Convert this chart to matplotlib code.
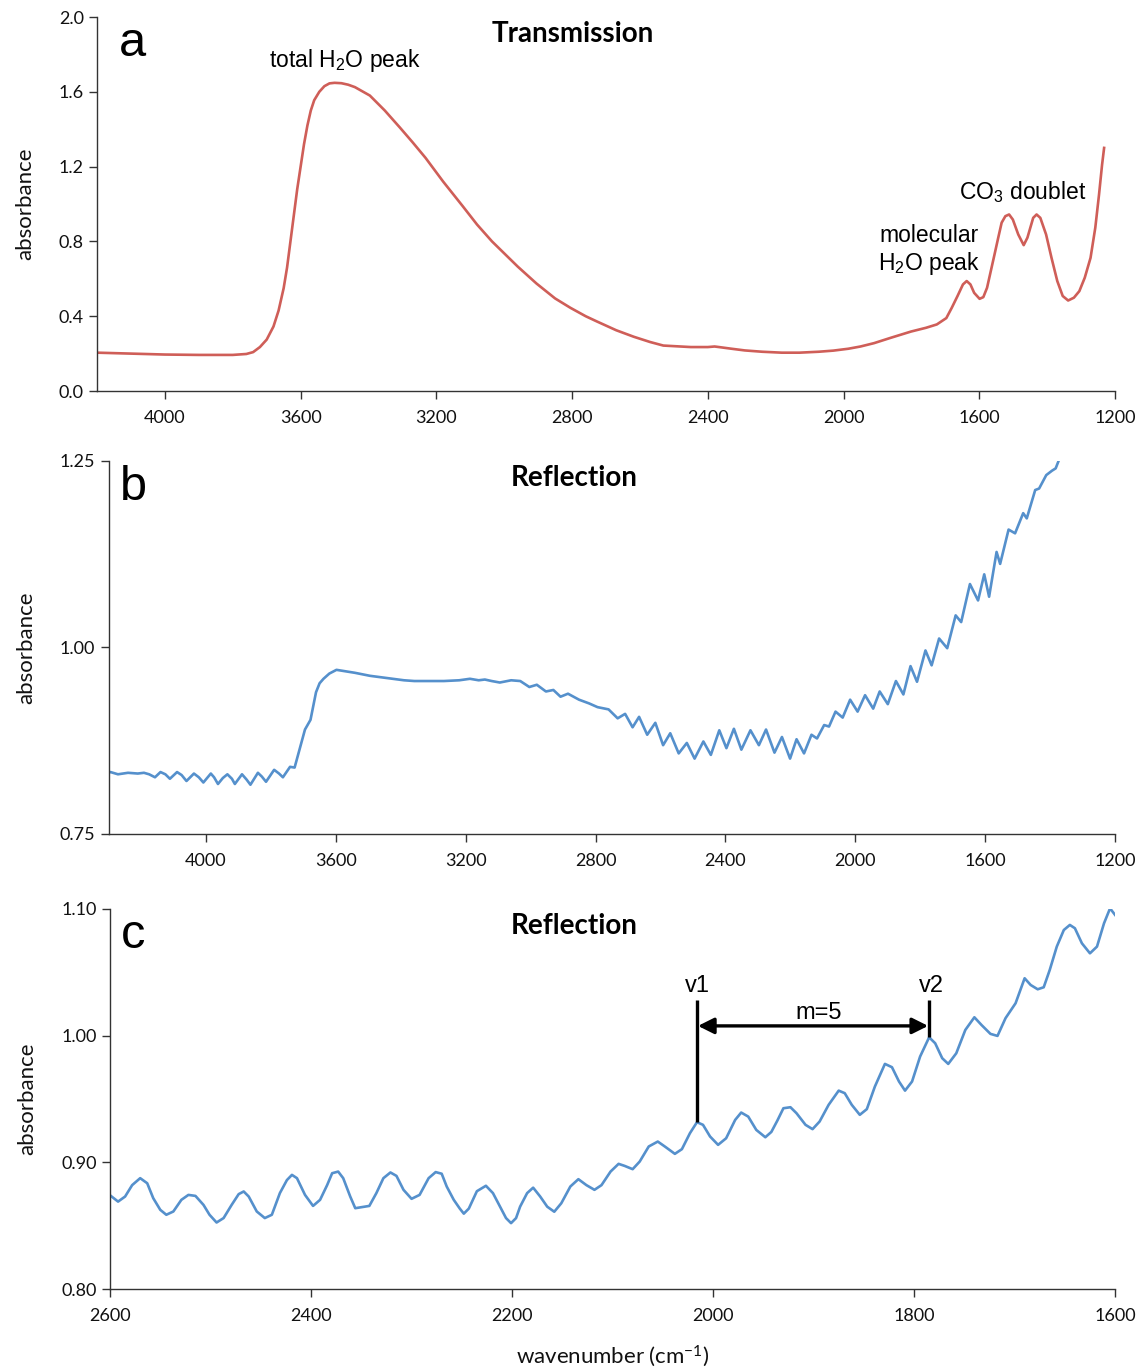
import matplotlib
matplotlib.use('Agg')
import matplotlib.pyplot as plt

plt.rcParams['font.family'] = ['Lato', 'DejaVu Sans']
plt.rcParams['mathtext.default'] = 'regular'

RED = '#CF5E58'
BLUE = '#5590CC'
INK = '#111111'
ANN = ['Liberation Sans', 'DejaVu Sans']

# panel a: transmission spectrum
wn_a = [4200, 4100, 4000, 3900, 3800, 3760, 3740, 3720, 3700, 3680, 3665, 3650,
        3640, 3630, 3620, 3610, 3600, 3590, 3580, 3570, 3560, 3545, 3530, 3515,
        3500, 3480, 3460, 3440, 3396, 3352, 3308, 3270, 3232, 3180, 3123, 3080,
        3036, 2960, 2905, 2850, 2805, 2760, 2727, 2670, 2618, 2570, 2531, 2450,
        2400, 2380, 2367, 2330, 2291, 2240, 2182, 2130, 2073, 2030, 1986, 1950,
        1910, 1860, 1801, 1757, 1725, 1697, 1681, 1664, 1648, 1637, 1626, 1615,
        1599, 1588, 1577, 1566, 1555, 1544, 1534, 1523, 1512, 1501, 1485, 1469,
        1458, 1441, 1431, 1420, 1403, 1387, 1370, 1354, 1338, 1321, 1305, 1289,
        1272, 1258, 1247, 1238, 1232]
ab_a = [0.205, 0.200, 0.195, 0.193, 0.193, 0.198, 0.208, 0.235, 0.275, 0.345, 0.43, 0.55,
        0.66, 0.80, 0.94, 1.08, 1.20, 1.32, 1.42, 1.50, 1.555, 1.60, 1.63, 1.645,
        1.648, 1.646, 1.638, 1.625, 1.580, 1.500, 1.410, 1.330, 1.247, 1.120, 0.990, 0.890,
        0.800, 0.665, 0.575, 0.495, 0.445, 0.400, 0.372, 0.325, 0.290, 0.262, 0.243, 0.235,
        0.235, 0.238, 0.235, 0.226, 0.217, 0.210, 0.205, 0.205, 0.210, 0.216, 0.226, 0.238,
        0.256, 0.285, 0.318, 0.338, 0.356, 0.390, 0.445, 0.508, 0.570, 0.588, 0.570, 0.525,
        0.493, 0.502, 0.552, 0.641, 0.730, 0.820, 0.900, 0.935, 0.944, 0.917, 0.837, 0.780,
        0.820, 0.926, 0.944, 0.926, 0.837, 0.712, 0.588, 0.508, 0.484, 0.499, 0.534, 0.606,
        0.712, 0.873, 1.050, 1.210, 1.300]

# panel b: reflection spectrum, full range
wn_b = [4300, 4294, 4271, 4240, 4210, 4191, 4175, 4157, 4140, 4125, 4111, 4089,
        4075, 4060, 4037, 4022, 4008, 3985, 3975, 3963, 3948, 3934, 3920, 3911,
        3889, 3875, 3863, 3840, 3828, 3815, 3790, 3775, 3763, 3741, 3727, 3712,
        3695, 3678, 3661, 3650, 3638, 3620, 3598, 3570, 3541, 3495, 3460, 3427,
        3390, 3358, 3300, 3267, 3220, 3187, 3160, 3141, 3120, 3095, 3060, 3032,
        3004, 2981, 2953, 2930, 2908, 2885, 2851, 2820, 2794, 2760, 2732, 2709,
        2686, 2666, 2641, 2616, 2592, 2570, 2544, 2519, 2495, 2468, 2445, 2419,
        2397, 2374, 2351, 2323, 2297, 2275, 2249, 2226, 2201, 2181, 2158, 2135,
        2118, 2096, 2081, 2061, 2039, 2016, 1993, 1970, 1945, 1925, 1900, 1875,
        1852, 1830, 1810, 1784, 1765, 1742, 1717, 1691, 1674, 1647, 1622, 1603,
        1588, 1565, 1554, 1528, 1508, 1483, 1472, 1446, 1434, 1412, 1394, 1383,
        1374]
ab_b = [0.832, 0.833, 0.830, 0.832, 0.831, 0.832, 0.830, 0.826, 0.833, 0.830, 0.824, 0.833,
        0.829, 0.821, 0.831, 0.826, 0.819, 0.831, 0.826, 0.817, 0.825, 0.830, 0.824, 0.817,
        0.830, 0.823, 0.816, 0.832, 0.827, 0.820, 0.836, 0.831, 0.826, 0.840, 0.839, 0.863,
        0.890, 0.903, 0.940, 0.952, 0.958, 0.965, 0.970, 0.968, 0.966, 0.962, 0.960, 0.958,
        0.956, 0.955, 0.955, 0.955, 0.956, 0.958, 0.956, 0.957, 0.955, 0.953, 0.956, 0.955,
        0.947, 0.950, 0.941, 0.943, 0.934, 0.938, 0.930, 0.925, 0.920, 0.917, 0.905, 0.911,
        0.893, 0.907, 0.883, 0.899, 0.869, 0.885, 0.858, 0.872, 0.851, 0.874, 0.856, 0.889,
        0.865, 0.891, 0.863, 0.889, 0.869, 0.890, 0.859, 0.880, 0.851, 0.877, 0.858, 0.883,
        0.878, 0.896, 0.894, 0.914, 0.906, 0.930, 0.914, 0.936, 0.918, 0.941, 0.924, 0.955,
        0.937, 0.975, 0.954, 0.996, 0.976, 1.012, 0.999, 1.043, 1.034, 1.085, 1.063, 1.098,
        1.068, 1.128, 1.112, 1.158, 1.153, 1.180, 1.173, 1.211, 1.213, 1.231, 1.237, 1.240,
        1.250]

# panel c: reflection, 2600-1600 zoom
wn_c = [2600, 2592, 2585, 2578, 2570, 2563, 2557, 2550, 2544, 2537, 2529, 2522,
        2515, 2507, 2501, 2494, 2487, 2479, 2472, 2467, 2462, 2454, 2446, 2439,
        2431, 2424, 2419, 2414, 2406, 2398, 2391, 2384, 2379, 2373, 2368, 2361,
        2356, 2350, 2342, 2335, 2328, 2321, 2315, 2308, 2300, 2292, 2283, 2276,
        2270, 2265, 2258, 2252, 2248, 2243, 2235, 2226, 2219, 2212, 2206, 2201,
        2196, 2192, 2185, 2179, 2172, 2165, 2158, 2151, 2142, 2134, 2126, 2118,
        2111, 2102, 2094, 2088, 2080, 2073, 2064, 2055, 2048, 2038, 2031, 2023,
        2016, 2010, 2003, 1995, 1987, 1978, 1972, 1965, 1957, 1948, 1942, 1936,
        1930, 1923, 1917, 1908, 1901, 1894, 1885, 1875, 1869, 1862, 1854, 1847,
        1839, 1829, 1822, 1815, 1809, 1802, 1794, 1785, 1779, 1772, 1766, 1758,
        1749, 1740, 1733, 1724, 1717, 1709, 1699, 1690, 1684, 1677, 1671, 1665,
        1658, 1651, 1645, 1640, 1633, 1625, 1618, 1611, 1605, 1600]
ab_c = [0.874, 0.869, 0.873, 0.882, 0.8875, 0.8835, 0.8717, 0.8625, 0.8586, 0.8612, 0.8704, 0.8743,
        0.8735, 0.8664, 0.8586, 0.8525, 0.856, 0.8664, 0.8749, 0.877, 0.873, 0.8612, 0.856, 0.8586,
        0.8757, 0.886, 0.8901, 0.8875, 0.8743, 0.8656, 0.8704, 0.882, 0.8914, 0.8927, 0.8875, 0.873,
        0.8638, 0.8646, 0.8656, 0.8757, 0.8875, 0.892, 0.8893, 0.8783, 0.8712, 0.8743, 0.8875, 0.8923,
        0.891, 0.8809, 0.8704, 0.8635, 0.8595, 0.8635, 0.8772, 0.8815, 0.8757, 0.865, 0.856, 0.852,
        0.856, 0.865, 0.8757, 0.880, 0.873, 0.865, 0.861, 0.8677, 0.8809, 0.8867, 0.882, 0.8783,
        0.882, 0.8927, 0.8988, 0.8972, 0.8946, 0.9006, 0.9125, 0.9164, 0.9125, 0.9067, 0.9104, 0.923,
        0.9317, 0.9296, 0.9204, 0.9138, 0.919, 0.9335, 0.9393, 0.9361, 0.9256, 0.9198, 0.924, 0.933,
        0.9427, 0.9435, 0.9388, 0.9296, 0.9262, 0.9322, 0.9454, 0.9566, 0.9546, 0.9454, 0.9375, 0.942,
        0.9598, 0.9777, 0.9751, 0.9638, 0.9566, 0.9638, 0.9835, 0.9987, 0.994, 0.9822, 0.9777, 0.9861,
        1.0045, 1.0145, 1.0085, 1.0014, 0.9998, 1.0138, 1.0256, 1.0453, 1.040, 1.0366, 1.0382, 1.0519,
        1.0703, 1.0834, 1.0874, 1.0848, 1.0729, 1.065, 1.0703, 1.0887, 1.1005, 1.0953]

# fringe peaks used for the thickness estimate
v1, v2 = 2016, 1785
v1_abs, v2_abs = 0.9317, 0.9987

fig = plt.figure(figsize=(11.39, 13.71), dpi=100)
fig.patch.set_facecolor('white')


def style(ax, xlim, ylim, yticks, fmt):
    ax.set_xlim(*xlim)
    ax.set_ylim(*ylim)
    ax.set_yticks(yticks)
    ax.set_yticklabels([fmt.format(v) for v in yticks])
    for s in ['top', 'right']:
        ax.spines[s].set_visible(False)
    for s in ['left', 'bottom']:
        ax.spines[s].set_linewidth(1.0)
        ax.spines[s].set_color('#333333')
    ax.tick_params(direction='out', length=6, width=1, colors='#333333',
                   labelsize=13, labelcolor=INK)
    ax.tick_params(axis='x', pad=8)
    ax.set_ylabel('absorbance', fontsize=16, color=INK, labelpad=17)
    ax.set_clip_on(True)


# a
ax1 = fig.add_axes([0.0852, 0.7148, 0.8937, 0.2728])
ax1.plot(wn_a, ab_a, color=RED, lw=1.9)
style(ax1, (4200, 1200), (0, 2.0), [0, 0.4, 0.8, 1.2, 1.6, 2.0], '{:.1f}')
ax1.set_xticks([4000, 3600, 3200, 2800, 2400, 2000, 1600, 1200])
ax1.text(0.021, 0.99, 'a', transform=ax1.transAxes, fontsize=35,
         family=ANN, va='top', ha='left')
ax1.text(0.467, 0.955, 'Transmission', transform=ax1.transAxes, fontsize=20,
         fontweight='bold', ha='center', va='center')
ax1.text(3470, 1.765, 'total H$_2$O peak', fontsize=16.5, family=ANN,
         ha='center', va='center')
ax1.text(1471, 1.064, 'CO$_3$ doublet', fontsize=16.5, family=ANN,
         ha='center', va='center')
ax1.text(1748, 0.834, 'molecular', fontsize=16.5, family=ANN,
         ha='center', va='center')
ax1.text(1748, 0.68, 'H$_2$O peak', fontsize=16.5, family=ANN,
         ha='center', va='center')

# b
ax2 = fig.add_axes([0.0953, 0.3917, 0.8837, 0.2721])
ax2.plot(wn_b, ab_b, color=BLUE, lw=1.9)
style(ax2, (4300, 1200), (0.75, 1.25), [0.75, 1.00, 1.25], '{:.2f}')
ax2.set_xticks([4000, 3600, 3200, 2800, 2400, 2000, 1600, 1200])
ax2.text(0.011, 0.99, 'b', transform=ax2.transAxes, fontsize=35,
         family=ANN, va='top', ha='left')
ax2.text(0.463, 0.955, 'Reflection', transform=ax2.transAxes, fontsize=20,
         fontweight='bold', ha='center', va='center')

# c
ax3 = fig.add_axes([0.0966, 0.0598, 0.8824, 0.2772])
ax3.plot(wn_c, ab_c, color=BLUE, lw=1.9)
style(ax3, (2600, 1600), (0.80, 1.10), [0.80, 0.90, 1.00, 1.10], '{:.2f}')
ax3.set_xticks([2600, 2400, 2200, 2000, 1800, 1600])
ax3.set_xlabel('wavenumber (cm$^{-1}$)', fontsize=16, color=INK, labelpad=14)
ax3.text(0.011, 0.99, 'c', transform=ax3.transAxes, fontsize=35,
         family=ANN, va='top', ha='left')
ax3.text(0.462, 0.955, 'Reflection', transform=ax3.transAxes, fontsize=20,
         fontweight='bold', ha='center', va='center')

# v1 / v2 markers and fringe count
ax3.plot([v1, v1], [v1_abs, 1.028], color='black', lw=2.4, solid_capstyle='butt')
ax3.plot([v2, v2], [v2_abs, 1.028], color='black', lw=2.4, solid_capstyle='butt')
ax3.annotate('', xy=(v2 + 1, 1.0077), xytext=(v1 - 1, 1.0077),
             arrowprops=dict(arrowstyle='<|-|>', color='black', lw=2.4,
                             mutation_scale=24, shrinkA=0, shrinkB=0))
ax3.text(v1, 1.039, 'v1', fontsize=17, family=ANN, ha='center', va='center')
ax3.text(v2 - 2, 1.039, 'v2', fontsize=17, family=ANN, ha='center', va='center')
ax3.text(1895, 1.018, 'm=5', fontsize=17, family=ANN, ha='center', va='center')

fig.savefig('out.png', dpi=100, facecolor='white')
